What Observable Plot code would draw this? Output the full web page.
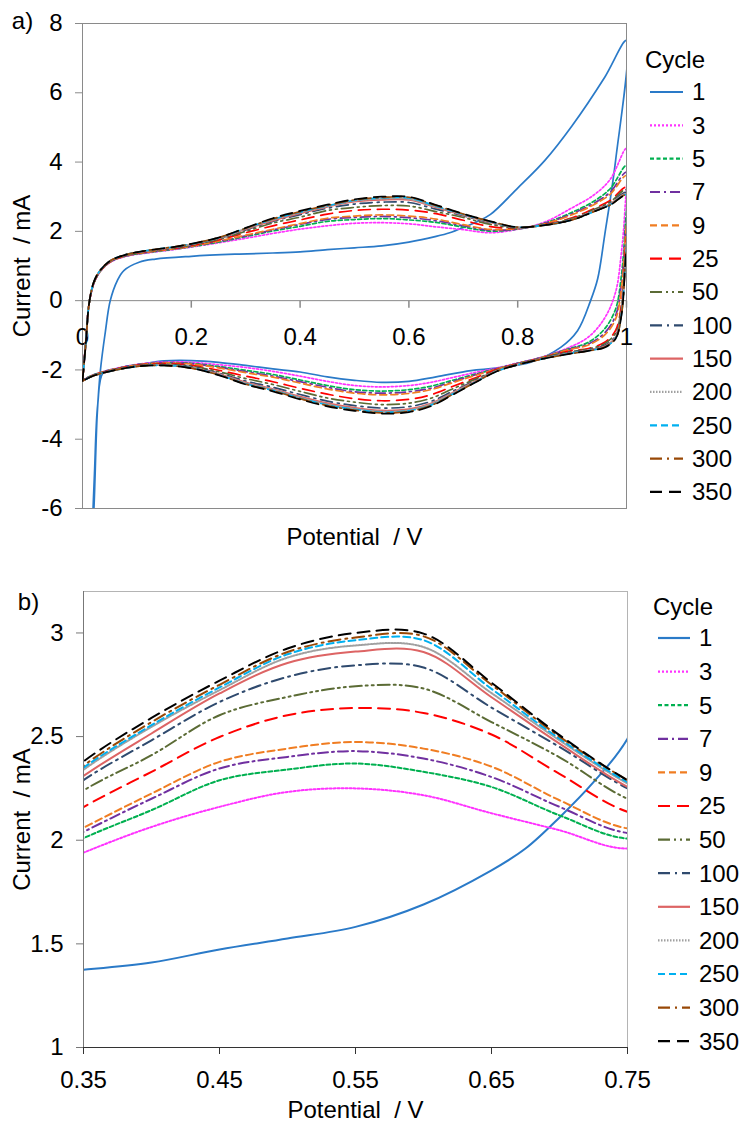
<!DOCTYPE html>
<html>
<head>
<meta charset="utf-8">
<script src="https://cdn.jsdelivr.net/npm/d3@7"></script>
<script src="https://cdn.jsdelivr.net/npm/@observablehq/plot@0.6"></script>
<style>
  html, body { margin: 0; padding: 0; background: white; }
  #root { width: 740px; height: 1122px; position: relative; overflow: hidden; }
  #root svg { display: block; }
</style>
</head>
<body>
<div id="root"></div>
<script>
// ---------- categories ----------
const cycles = ["1", "3", "5", "7", "9", "25", "50", "100", "150", "200", "250", "300", "350"];
const colors = ["#2a7ac8", "#ff33ff", "#00b050", "#7030a0", "#f07d22", "#ff0000", "#5b6b35", "#2f4a6e", "#dd6464", "#a0a0a0", "#00b0f0", "#984806", "#000000"];
const dashes = [null, "2,2", "4,2.5", "10,4,2,4", "7,4", "12,7", "12,4,2,4,2,4", "12,5,2,5", null, "1.5,1.5", "7,4", "12,5,2,5", "12,7"];

// ---------- tick labels ----------
const xTicksA = [0, 0.2, 0.4, 0.6, 0.8, 1];
const yTicksA = [-6, -4, -2, 0, 2, 4, 6, 8];
const xTicksB = [0.35, 0.45, 0.55, 0.65, 0.75];
const yTicksB = [1, 1.5, 2, 2.5, 3];

// ---------- cycle 1 (potential / V, current / mA) ----------
const cyc1UpV = [0.017, 0.021, 0.027, 0.033, 0.042, 0.051, 0.064, 0.076, 0.104, 0.134, 0.20, 0.28, 0.35, 0.40, 0.45, 0.50, 0.55, 0.60, 0.65, 0.675, 0.70, 0.725, 0.75, 0.80, 0.85, 0.90, 0.96, 1.0];
const cyc1Up  = [-7.0, -6.0, -3.3, -2.0, -0.9, 0.0, 0.58, 0.87, 1.11, 1.20, 1.28, 1.34, 1.375, 1.41, 1.473, 1.526, 1.582, 1.69, 1.855, 1.96, 2.11, 2.28, 2.49, 3.25, 4.05, 5.05, 6.45, 7.51];
const cyc1DownV = [1.0, 0.98, 0.96, 0.947, 0.934, 0.91, 0.879, 0.824, 0.76, 0.714, 0.65, 0.60, 0.55, 0.50, 0.45, 0.40, 0.35, 0.30, 0.25, 0.20, 0.15, 0.11, 0.061, 0.038, 0.028, 0.022, 0.017];
const cyc1Down  = [7.51, 4.05, 1.9, 0.63, 0.0, -0.87, -1.35, -1.78, -1.95, -2.02, -2.20, -2.33, -2.36, -2.30, -2.20, -2.06, -1.97, -1.87, -1.78, -1.73, -1.74, -1.83, -1.97, -2.08, -3.0, -5.0, -7.0];

// ---------- cycles 3..350: shared potentials ----------
const anodicV   = [0, 0.006, 0.012, 0.02, 0.03, 0.05, 0.08, 0.12, 0.18, 0.25, 0.30, 0.35, 0.40, 0.45, 0.50, 0.55, 0.60, 0.65, 0.70, 0.75, 0.80, 0.85, 0.90, 0.94, 0.97, 1.0];
const cathodicV = [1.0, 0.997, 0.99, 0.98, 0.96, 0.93, 0.89, 0.84, 0.80, 0.76, 0.72, 0.68, 0.64, 0.60, 0.55, 0.50, 0.45, 0.40, 0.35, 0.30, 0.25, 0.20, 0.15, 0.10, 0.05, 0.02, 0.0];

// anodic (forward) currents, mA
const up3   = [-2.30,-1.20,-0.10,0.45,0.78,1.10,1.28,1.38,1.50,1.67,1.80, 1.94,2.064,2.161,2.233,2.25,2.217,2.13,2.048,1.96, 2.06,2.27,2.68,3.05,3.50,4.40];
const up5   = [-2.30,-1.21,-0.10,0.46,0.79,1.11,1.29,1.39,1.51,1.69,1.85, 2.01,2.145,2.289,2.341,2.37,2.33,2.257,2.12,2.008, 2.07,2.24,2.55,2.87,3.23,3.90];
const up7   = [-2.30,-1.21,-0.10,0.46,0.79,1.11,1.29,1.40,1.52,1.71,1.87, 2.04,2.20,2.346,2.402,2.43,2.394,2.305,2.161,2.035, 2.07,2.23,2.51,2.81,3.13,3.71];
const up9   = [-2.31,-1.22,-0.10,0.47,0.79,1.11,1.30,1.40,1.52,1.72,1.89, 2.06,2.225,2.378,2.442,2.474,2.442,2.355,2.193,2.057, 2.08,2.22,2.48,2.77,3.07,3.61];
const up25  = [-2.31,-1.23,-0.10,0.48,0.80,1.12,1.31,1.42,1.54,1.75,1.96, 2.16,2.33,2.498,2.603,2.638,2.614,2.51,2.32,2.137, 2.09,2.20,2.39,2.66,2.89,3.27];
const up50  = [-2.31,-1.23,-0.10,0.48,0.81,1.13,1.31,1.43,1.55,1.77,2.00, 2.24,2.41,2.603,2.691,2.743,2.732,2.57,2.40,2.20, 2.10,2.19,2.37,2.63,2.85,3.20];
const up100 = [-2.32,-1.24,-0.10,0.49,0.81,1.13,1.32,1.44,1.56,1.79,2.04, 2.29,2.482,2.667,2.788,2.844,2.833,2.64,2.45,2.25, 2.11,2.19,2.35,2.60,2.81,3.12];
const up150 = [-2.32,-1.24,-0.10,0.49,0.82,1.14,1.32,1.44,1.57,1.80,2.06, 2.31,2.515,2.708,2.855,2.91,2.908,2.69,2.466,2.257, 2.11,2.18,2.34,2.59,2.79,3.08];
const up200 = [-2.32,-1.25,-0.10,0.50,0.82,1.14,1.33,1.44,1.57,1.81,2.08, 2.34,2.547,2.724,2.881,2.94,2.932,2.71,2.482,2.273, 2.11,2.18,2.34,2.58,2.78,3.06];
const up250 = [-2.32,-1.25,-0.10,0.50,0.82,1.14,1.33,1.45,1.58,1.81,2.09, 2.35,2.555,2.737,2.897,2.965,2.965,2.73,2.49,2.28, 2.12,2.18,2.33,2.57,2.77,3.05];
const up300 = [-2.32,-1.25,-0.10,0.50,0.82,1.14,1.33,1.45,1.58,1.82,2.09, 2.36,2.57,2.75,2.908,2.978,2.984,2.75,2.50,2.29, 2.12,2.18,2.33,2.57,2.76,3.04];
const up350 = [-2.32,-1.25,-0.10,0.50,0.82,1.14,1.33,1.45,1.58,1.82,2.10, 2.38,2.59,2.77,2.925,3.00,2.997,2.76,2.507,2.289, 2.12,2.18,2.33,2.57,2.76,3.03];

// cathodic (reverse) currents, mA
const down3   = [4.40,2.60,1.30,0.25,-0.50,-1.05,-1.38,-1.65,-1.80,-1.95,-2.08,-2.22,-2.36,-2.45,-2.49,-2.45,-2.33,-2.18,-2.04,-1.93,-1.85,-1.78,-1.77,-1.84,-2.00,-2.14,-2.30];
const down5   = [3.90,1.98,0.64,-0.24,-0.81,-1.20,-1.41,-1.66,-1.81,-1.97,-2.13,-2.30,-2.47,-2.57,-2.61,-2.57,-2.45,-2.29,-2.13,-2.01,-1.90,-1.81,-1.79,-1.85,-2.01,-2.14,-2.30];
const down7   = [3.71,1.75,0.40,-0.43,-0.93,-1.25,-1.42,-1.66,-1.81,-1.97,-2.15,-2.34,-2.53,-2.63,-2.67,-2.63,-2.50,-2.34,-2.18,-2.05,-1.92,-1.82,-1.79,-1.85,-2.01,-2.15,-2.30];
const down9   = [3.61,1.61,0.26,-0.53,-0.99,-1.28,-1.43,-1.67,-1.82,-1.98,-2.17,-2.37,-2.57,-2.68,-2.72,-2.67,-2.55,-2.38,-2.21,-2.08,-1.94,-1.83,-1.80,-1.86,-2.01,-2.15,-2.31];
const down25  = [3.27,1.21,-0.18,-0.86,-1.20,-1.38,-1.47,-1.68,-1.83,-2.00,-2.24,-2.48,-2.72,-2.85,-2.89,-2.83,-2.70,-2.53,-2.34,-2.18,-2.01,-1.87,-1.82,-1.87,-2.02,-2.16,-2.31];
const down50  = [3.20,1.11,-0.28,-0.93,-1.24,-1.40,-1.49,-1.68,-1.83,-2.02,-2.28,-2.55,-2.82,-2.96,-3.00,-2.93,-2.81,-2.62,-2.42,-2.25,-2.05,-1.89,-1.84,-1.88,-2.03,-2.16,-2.31];
const down100 = [3.12,1.01,-0.38,-1.01,-1.29,-1.42,-1.51,-1.69,-1.84,-2.03,-2.32,-2.62,-2.91,-3.06,-3.10,-3.03,-2.90,-2.71,-2.50,-2.32,-2.09,-1.91,-1.85,-1.89,-2.03,-2.16,-2.32];
const down150 = [3.08,0.97,-0.43,-1.05,-1.32,-1.43,-1.53,-1.69,-1.84,-2.04,-2.34,-2.66,-2.97,-3.13,-3.17,-3.09,-2.96,-2.77,-2.55,-2.36,-2.11,-1.93,-1.86,-1.89,-2.04,-2.17,-2.32];
const down200 = [3.06,0.94,-0.46,-1.07,-1.33,-1.44,-1.54,-1.70,-1.85,-2.04,-2.36,-2.68,-2.99,-3.16,-3.20,-3.12,-2.99,-2.80,-2.57,-2.38,-2.13,-1.94,-1.86,-1.90,-2.04,-2.17,-2.32];
const down250 = [3.05,0.93,-0.47,-1.08,-1.34,-1.44,-1.54,-1.70,-1.85,-2.05,-2.37,-2.70,-3.02,-3.18,-3.22,-3.14,-3.01,-2.82,-2.59,-2.40,-2.14,-1.94,-1.87,-1.90,-2.04,-2.17,-2.32];
const down300 = [3.04,0.91,-0.49,-1.09,-1.34,-1.45,-1.55,-1.70,-1.85,-2.05,-2.37,-2.71,-3.03,-3.20,-3.24,-3.16,-3.03,-2.83,-2.60,-2.41,-2.14,-1.95,-1.87,-1.90,-2.04,-2.17,-2.32];
const down350 = [3.03,0.90,-0.50,-1.10,-1.35,-1.45,-1.55,-1.70,-1.85,-2.05,-2.38,-2.72,-3.05,-3.22,-3.26,-3.18,-3.05,-2.85,-2.62,-2.42,-2.15,-1.95,-1.87,-1.90,-2.04,-2.17,-2.32];

// ---------- build the table ----------
const ups   = {"3": up3, "5": up5, "7": up7, "9": up9, "25": up25, "50": up50, "100": up100, "150": up150, "200": up200, "250": up250, "300": up300, "350": up350};
const downs = {"3": down3, "5": down5, "7": down7, "9": down9, "25": down25, "50": down50, "100": down100, "150": down150, "200": down200, "250": down250, "300": down300, "350": down350};

function seriesOf(c) {
  if (c === "1") {
    return cyc1UpV.map((v, k) => ({v, i: cyc1Up[k]}))
      .concat(cyc1DownV.slice(1).map((v, k) => ({v, i: cyc1Down[k + 1]})));
  }
  return anodicV.map((v, k) => ({v, i: ups[c][k]}))
    .concat(cathodicV.slice(1).map((v, k) => ({v, i: downs[c][k + 1]})));
}

const font = "'Liberation Sans', Arial, Helvetica, sans-serif";

function lineMarks(width) {
  return cycles.map((c, k) => Plot.line(seriesOf(c), {
    x: "v", y: "i",
    stroke: colors[k],
    strokeWidth: width,
    strokeDasharray: dashes[k] || undefined,
    curve: "catmull-rom",
    clip: true
  }));
}

function addLegend(svg, x0, yTitle, y0, step) {
  const g = d3.select(svg).append("g")
    .attr("font-family", font).attr("font-size", 24).attr("text-anchor", "start");
  g.append("text").attr("x", x0.title).attr("y", yTitle).attr("dy", "0.35em").attr("fill", "black").text("Cycle");
  cycles.forEach((c, k) => {
    const y = y0 + step * k;
    g.append("line").attr("x1", x0.l1).attr("x2", x0.l2).attr("y1", y).attr("y2", y)
      .attr("stroke", colors[k]).attr("stroke-width", 2.2)
      .attr("stroke-dasharray", dashes[k] || null);
    g.append("text").attr("x", x0.text).attr("y", y).attr("dy", "0.35em").attr("fill", "black").text(c);
  });
}

const tickDown = { draw(ctx) { ctx.moveTo(0, 0); ctx.lineTo(0, 7); } };
const centered = {textAnchor: "middle", lineAnchor: "middle", fill: "black"};

// ---------- panel a ----------
const plotA = Plot.plot({
  width: 740, height: 560,
  marginLeft: 82, marginRight: 114, marginTop: 23, marginBottom: 52,
  style: {fontFamily: font, fontSize: "24px", background: "white", color: "black"},
  x: {domain: [0, 1], axis: null},
  y: {domain: [-6, 8]},
  marks: [
    Plot.frame({stroke: "#8a8a8a"}),
    Plot.ruleY([0], {stroke: "#8a8a8a"}),
    Plot.axisY(yTicksA, {tickSize: 7, tickPadding: 13, tickFormat: d => String(d), stroke: "#8a8a8a", label: null}),
    Plot.dot(xTicksA, {x: d => d, y: 0, symbol: tickDown, r: 2, stroke: "#8a8a8a", fill: "none"}),
    Plot.text(xTicksA, {x: d => d, y: 0, text: d => String(d), dy: 27, lineAnchor: "top", fill: "black"}),
    ...lineMarks(1.7),
    Plot.text(["Current  / mA"], {text: d => d, frameAnchor: "left", rotate: -90, dx: -60, ...centered}),
    Plot.text(["Potential  / V"], {text: d => d, frameAnchor: "bottom", dy: 29, ...centered}),
    Plot.text(["a)"], {text: d => d, frameAnchor: "top-left", dx: -60, dy: -2, ...centered})
  ]
});
addLegend(plotA, {title: 645, l1: 650, l2: 683, text: 692}, 60, 92, 33.33);

// ---------- panel b ----------
const plotB = Plot.plot({
  width: 740, height: 562,
  marginLeft: 83, marginRight: 113, marginTop: 31, marginBottom: 75,
  style: {fontFamily: font, fontSize: "24px", background: "white", color: "black"},
  x: {domain: [0.35, 0.75]},
  y: {domain: [1, 3.2]},
  marks: [
    Plot.frame({stroke: "#b4b4b4"}),
    ...lineMarks(2),
    Plot.ruleX([0.35], {stroke: "#777"}),
    Plot.ruleY([1], {stroke: "#333"}),
    Plot.axisY(yTicksB, {tickSize: 7, tickPadding: 13, tickFormat: d => String(d), stroke: "#777", label: null}),
    Plot.axisX(xTicksB, {tickSize: 7, tickPadding: 16, tickFormat: d => String(d), stroke: "#333", label: null}),
    Plot.text(["Current  / mA"], {text: d => d, frameAnchor: "left", rotate: -90, dx: -61, ...centered}),
    Plot.text(["Potential  / V"], {text: d => d, frameAnchor: "bottom", dy: 63, ...centered}),
    Plot.text(["b)"], {text: d => d, frameAnchor: "top-left", dx: -55, dy: 11, ...centered})
  ]
});
addLegend(plotB, {title: 653, l1: 658, l2: 690, text: 699}, 47, 78, 33.6);

const root = document.getElementById("root");
root.appendChild(plotA);
root.appendChild(plotB);
</script>
</body>
</html>
